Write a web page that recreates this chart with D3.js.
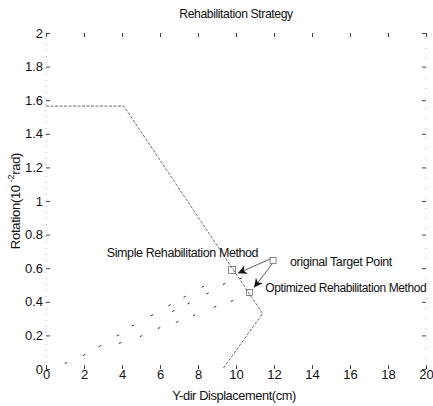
<!DOCTYPE html>
<html>
<head>
<meta charset="utf-8">
<script src="https://cdn.jsdelivr.net/npm/d3@7"></script>
<style>
  body { margin: 0; background: #fff; }
  svg { display: block; font-family: "Liberation Sans", Arial, sans-serif; }
</style>
</head>
<body>
<svg id="chart" width="433" height="406"></svg>
<script>
// Axis ticks
const xTicks = [0, 2, 4, 6, 8, 10, 12, 14, 16, 18, 20];
const yTicks = [0, 0.2, 0.4, 0.6, 0.8, 1, 1.2, 1.4, 1.6, 1.8, 2];

// Rehabilitation path (displacement cm, rotation 1e-2 rad)
const pathX = [0, 4.1, 11.4, 9.3];
const pathY = [1.565, 1.565, 0.33, 0];

// Intermediate iteration points
const iterX = [1.05, 2.0, 2.84, 3.79, 3.9, 4.58, 5.0, 5.58, 5.95, 6.5, 6.7, 6.9, 7.3, 7.5, 7.8, 8.26, 8.5, 8.9, 9.37, 9.79, 10.26];
const iterY = [0.036, 0.083, 0.137, 0.20, 0.155, 0.26, 0.196, 0.32, 0.244, 0.38, 0.345, 0.28, 0.43, 0.39, 0.32, 0.49, 0.45, 0.37, 0.506, 0.405, 0.54];

// Key points
const targetPt = [11.95, 0.645];
const simplePt = [9.8, 0.59];
const optimPt = [10.7, 0.455];

const svg = d3.select("#chart");
const x = d3.scaleLinear().domain([0, 20]).range([46, 426]);
const y = d3.scaleLinear().domain([0, 2]).range([369, 33]);
const ink = "#111";

// Frame (faint, dotted on the sides)
svg.append("line").attr("x1", x(0)).attr("x2", x(0)).attr("y1", y(0)).attr("y2", y(2))
  .attr("stroke", "#999").attr("stroke-width", 0.8).attr("stroke-dasharray", "1,5");
svg.append("line").attr("x1", x(20)).attr("x2", x(20)).attr("y1", y(0)).attr("y2", y(2))
  .attr("stroke", "#999").attr("stroke-width", 0.8).attr("stroke-dasharray", "1,9");

// Bottom axis: inward ticks with labels
const xAxisB = d3.axisBottom(x).tickValues(xTicks).tickSize(-4).tickPadding(1).tickFormat(d3.format("d"));
const gB = svg.append("g").attr("transform", `translate(0,${y(0)})`).call(xAxisB);
// Top axis: inward ticks, no labels
const xAxisT = d3.axisTop(x).tickValues(xTicks).tickSize(-4).tickFormat("");
const gT = svg.append("g").attr("transform", `translate(0,${y(2)})`).call(xAxisT);
// Left axis
const yAxisL = d3.axisLeft(y).tickValues(yTicks).tickSize(-4).tickPadding(3).tickFormat(d3.format("~g"));
const gL = svg.append("g").attr("transform", `translate(${x(0)},0)`).call(yAxisL);
// Right axis
const yAxisR = d3.axisRight(y).tickValues(yTicks).tickSize(-4).tickFormat("");
const gR = svg.append("g").attr("transform", `translate(${x(20)},0)`).call(yAxisR);

[gB, gT, gL, gR].forEach(g => {
  g.select(".domain").remove();
  g.selectAll(".tick line").attr("stroke", ink).attr("stroke-width", 0.8);
  g.selectAll(".tick text").attr("fill", ink).attr("font-size", 13)
    .attr("font-family", "'Liberation Sans', Arial, sans-serif");
});

// Rehabilitation path
const line = d3.line().x(d => x(d[0])).y(d => y(d[1]));
svg.append("path").datum(pathX.map((v, i) => [v, pathY[i]]))
  .attr("d", line).attr("fill", "none").attr("stroke", "#444")
  .attr("stroke-width", 0.8).attr("stroke-dasharray", "3,1.5");

// Iteration points as short strokes
svg.append("g").selectAll("line").data(iterX.map((v, i) => [v, iterY[i]])).join("line")
  .attr("x1", d => x(d[0]) - 1.2).attr("x2", d => x(d[0]) + 1.2)
  .attr("y1", d => y(d[1]) + 0.6).attr("y2", d => y(d[1]) - 0.6)
  .attr("stroke", "#333").attr("stroke-width", 1);

// Markers
function square(pt, s) {
  svg.append("rect").attr("x", x(pt[0]) - s / 2).attr("y", y(pt[1]) - s / 2)
    .attr("width", s).attr("height", s).attr("fill", "none")
    .attr("stroke", "#555").attr("stroke-width", 0.7);
}
square(simplePt, 7);
square(optimPt, 6);
square(targetPt, 6);

// Arrows from the original target point
svg.append("defs").append("marker").attr("id", "ah")
  .attr("viewBox", "0 0 10 10").attr("refX", 10).attr("refY", 5)
  .attr("markerWidth", 12).attr("markerHeight", 9).attr("markerUnits", "userSpaceOnUse")
  .attr("orient", "auto")
  .append("path").attr("d", "M0,0 L10,5 L0,10 L3,5 Z").attr("fill", ink);

function arrow(from, to) {
  svg.append("line")
    .attr("x1", x(from[0])).attr("y1", y(from[1]))
    .attr("x2", x(to[0])).attr("y2", y(to[1]))
    .attr("stroke", "#333").attr("stroke-width", 0.8).attr("marker-end", "url(#ah)");
}
arrow([targetPt[0] - 0.15, targetPt[1] + 0.01], [simplePt[0] + 0.3, simplePt[1] - 0.02]);
arrow([targetPt[0] - 0.05, targetPt[1] - 0.02], [optimPt[0] + 0.25, optimPt[1] + 0.03]);

// Annotations
const txt = (s, px, py, anchor, size) => svg.append("text").text(s)
  .attr("x", px).attr("y", py).attr("text-anchor", anchor)
  .attr("font-size", size).attr("letter-spacing", "-0.4").attr("fill", ink);

txt("Simple Rehabilitation Method", x(simplePt[0]) + 26, y(simplePt[1]) - 13, "end", 12.5);
txt("original Target Point", x(targetPt[0]) + 17, y(targetPt[1]) + 5, "start", 12.5);
txt("Optimized Rehabilitation Method", x(optimPt[0]) + 16, y(optimPt[1]) - 1, "start", 12);

// Title and axis labels
txt("Rehabilitation Strategy", 236, 18, "middle", 12.2);
txt("Y-dir Displacement(cm)", 234, 400, "middle", 12.8);

const yl = svg.append("text").attr("transform", "translate(20,201) rotate(-90)")
  .attr("text-anchor", "middle").attr("font-size", 13).attr("letter-spacing", "-0.3").attr("fill", ink);
yl.append("tspan").text("Rotation(10");
yl.append("tspan").text("-2").attr("font-size", 9).attr("dx", 3).attr("dy", -6);
yl.append("tspan").text("rad)").attr("dy", 6);
</script>
</body>
</html>
